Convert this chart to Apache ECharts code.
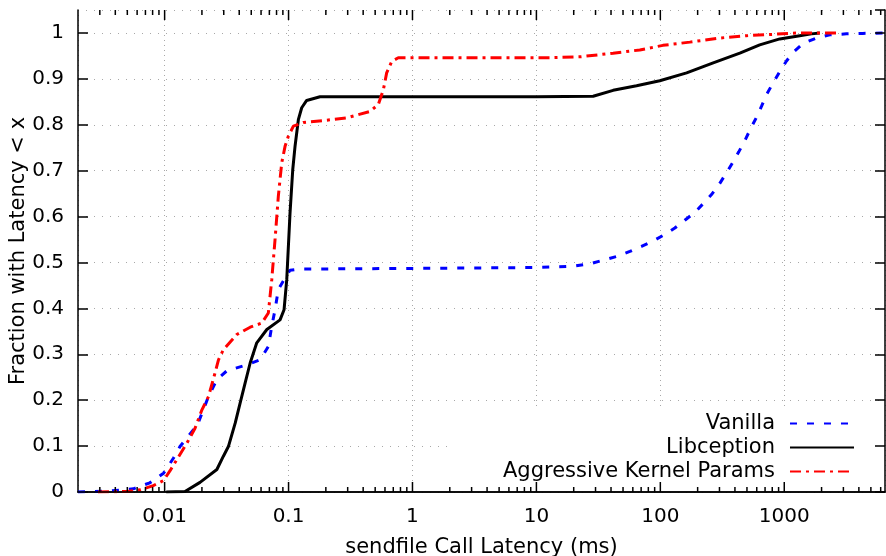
<!DOCTYPE html>
<html><head><meta charset="utf-8">
<script src="https://cdn.jsdelivr.net/npm/echarts@6/dist/echarts.min.js"></script>
<style>html,body{margin:0;padding:0;background:#fff}#c{width:886px;height:556px}</style>
</head><body><div id="c"></div>
<script>
// ---- data ----
const vanillaX = [0.002, 0.0036, 0.0056, 0.0076, 0.0098, 0.0118, 0.0133, 0.0171, 0.0182, 0.0226, 0.0264, 0.0318, 0.046, 0.0589, 0.0687, 0.0732, 0.0778, 0.0827, 0.0937, 0.1028, 0.1238, 0.2, 1, 10, 20, 27, 34.6, 44.3, 56.8, 70.5, 87.4, 108.7, 130.9, 157.6, 189.8, 221.4, 258.8, 298, 337.5, 382, 429.5, 480, 533.5, 596.5, 654.6, 726.7, 812, 920, 1042, 1193, 1419, 1820, 2329, 3176, 4300, 6500];
const vanillaY = [0, 0.002, 0.007, 0.020, 0.041, 0.074, 0.099, 0.136, 0.143, 0.208, 0.245, 0.264, 0.277, 0.288, 0.317, 0.361, 0.397, 0.441, 0.466, 0.483, 0.486, 0.486, 0.487, 0.489, 0.492, 0.497, 0.505, 0.513, 0.524, 0.535, 0.547, 0.561, 0.575, 0.592, 0.609, 0.628, 0.648, 0.670, 0.693, 0.717, 0.741, 0.765, 0.791, 0.816, 0.840, 0.868, 0.891, 0.916, 0.939, 0.959, 0.977, 0.989, 0.996, 0.998, 0.999, 1.0];

const libX = [0.0103, 0.0146, 0.0193, 0.0264, 0.0298, 0.0327, 0.0371, 0.0407, 0.0446, 0.049, 0.0554, 0.0668, 0.0854, 0.092, 0.0967, 0.1028, 0.1081, 0.1128, 0.120, 0.1277, 0.140, 0.1795, 0.3, 1.15, 10, 28.7, 41.6, 64.3, 99, 163, 267, 438, 634, 920, 1334, 1657, 1933];
const libY = [0, 0.001, 0.021, 0.049, 0.078, 0.099, 0.150, 0.194, 0.237, 0.281, 0.325, 0.354, 0.375, 0.397, 0.4625, 0.608, 0.702, 0.753, 0.811, 0.837, 0.853, 0.861, 0.861, 0.861, 0.861, 0.862, 0.875, 0.885, 0.896, 0.913, 0.935, 0.956, 0.974, 0.987, 0.994, 0.998, 1.0];

const aggX = [0.0029, 0.005, 0.0064, 0.0081, 0.0098, 0.0111, 0.0125, 0.0151, 0.0176, 0.020, 0.0226, 0.0255, 0.0272, 0.0298, 0.0382, 0.049, 0.0608, 0.0687, 0.0732, 0.0778, 0.0827, 0.0881, 0.0937, 0.0996, 0.1094, 0.1316, 0.2032, 0.2946, 0.454, 0.530, 0.582, 0.619, 0.680, 0.768, 2.0, 12.85, 22.4, 41.6, 68.3, 105, 173, 302, 496, 812, 1254, 2800];
const aggY = [0, 0.001, 0.005, 0.014, 0.025, 0.047, 0.070, 0.106, 0.139, 0.179, 0.208, 0.259, 0.288, 0.310, 0.343, 0.359, 0.368, 0.390, 0.4625, 0.55, 0.644, 0.717, 0.753, 0.775, 0.797, 0.805, 0.810, 0.815, 0.829, 0.844, 0.876, 0.913, 0.938, 0.946, 0.946, 0.946, 0.948, 0.956, 0.963, 0.973, 0.980, 0.989, 0.994, 0.997, 1.0, 1.0];

const seriesNames = ['Vanilla', 'Libception', 'Aggressive Kernel Params'];
const xMajorTicks = [0.01, 0.1, 1, 10, 100, 1000];
const xMinorTicks = [0.003, 0.004, 0.005, 0.006, 0.007, 0.008, 0.009,
  0.02, 0.03, 0.04, 0.05, 0.06, 0.07, 0.08, 0.09,
  0.2, 0.3, 0.4, 0.5, 0.6, 0.7, 0.8, 0.9,
  2, 3, 4, 5, 6, 7, 8, 9,
  20, 30, 40, 50, 60, 70, 80, 90,
  200, 300, 400, 500, 600, 700, 800, 900,
  2000, 3000, 4000, 5000, 6000];
const xMin = 0.002, xMax = 6500;
const yMin = 0, yMax = 1.05, yStep = 0.1;

// ---- chart ----
const FONT = 'DejaVu Sans';
const zip = (xs, ys) => xs.map((x, i) => [x, ys[i]]);
const fmt = v => String(+(+v).toPrecision(6));
const MAJOR_LEN = 10, MINOR_LEN = 5;
const tickData = xMajorTicks.map(v => [v, yMin, MAJOR_LEN]).concat(xMinorTicks.map(v => [v, yMin, MINOR_LEN]));

const chart = echarts.init(document.getElementById('c'), null, {renderer: 'canvas'});
const frameLine = {show: true, lineStyle: {color: '#000', width: 1.5}};

chart.setOption({
  animation: false,
  backgroundColor: '#fff',
  grid: {left: 78, right: 1, top: 10, bottom: 64, containLabel: false, outerBoundsMode: 'none'},
  legend: {
    orient: 'vertical', align: 'right',
    left: 449, top: 408,
    padding: [5, 24, 9, 54],
    backgroundColor: '#fff',
    itemWidth: 64, itemHeight: 14, itemGap: 3,
    itemStyle: {opacity: 0},
    textStyle: {fontFamily: FONT, fontSize: 21, color: '#000', padding: [0, 10, 0, 0]},
    data: seriesNames,
    z: 5
  },
  xAxis: [
    {
      type: 'log', logBase: 10, min: xMin, max: xMax, position: 'bottom', z: 0,
      name: 'sendfile Call Latency (ms)', nameLocation: 'middle', nameGap: 45, nameMoveOverlap: false,
      nameTextStyle: {fontFamily: FONT, fontSize: 21, color: '#000'},
      axisLine: frameLine, axisTick: {show: false},
      axisLabel: {customValues: xMajorTicks, formatter: fmt, fontFamily: FONT, fontSize: 20, color: '#000', margin: 15},
      splitLine: {show: true, lineStyle: {color: '#a8a8a8', width: 1, type: [1, 4]}}
    },
    {
      type: 'log', logBase: 10, min: xMin, max: xMax, position: 'top', z: 10,
      axisLine: frameLine, axisTick: {show: false},
      axisLabel: {show: false}, splitLine: {show: false}
    }
  ],
  yAxis: [
    {
      type: 'value', min: yMin, max: yMax, interval: yStep, position: 'left', z: 0,
      name: 'Fraction with Latency < x', nameLocation: 'middle', nameGap: 49, nameMoveOverlap: false,
      nameTextStyle: {fontFamily: FONT, fontSize: 21, color: '#000'},
      axisLine: frameLine,
      axisTick: {show: true, inside: true, length: MAJOR_LEN, lineStyle: {color: '#000', width: 1.5}},
      axisLabel: {fontFamily: FONT, fontSize: 20, color: '#000', margin: 14, showMaxLabel: false, formatter: fmt},
      splitLine: {show: true, lineStyle: {color: '#a8a8a8', width: 1, type: [1, 7]}}
    },
    {
      type: 'value', min: yMin, max: yMax, interval: yStep, position: 'right', z: 10,
      axisLine: frameLine,
      axisTick: {show: true, inside: true, length: MAJOR_LEN, lineStyle: {color: '#000', width: 1.5}},
      axisLabel: {show: false}, splitLine: {show: false}
    }
  ],
  series: [
    {name: seriesNames[0], type: 'line', data: zip(vanillaX, vanillaY), symbol: 'none', color: '#0000ff',
     lineStyle: {color: '#0000ff', width: 3, type: [7, 10]}, z: 3},
    {name: seriesNames[1], type: 'line', data: zip(libX, libY), symbol: 'none', color: '#000000',
     lineStyle: {color: '#000000', width: 3, type: 'solid'}, z: 3},
    {name: seriesNames[2], type: 'line', data: zip(aggX, aggY), symbol: 'none', color: '#ff0000',
     lineStyle: {color: '#ff0000', width: 3, type: [11, 5, 3, 5]}, z: 3},
    {
      // x-axis tick marks (bottom and mirrored top), placed by the log scale
      type: 'custom', xAxisIndex: 0, yAxisIndex: 0, z: 10, silent: true, clip: false,
      data: tickData, encode: {x: 0, y: 1},
      renderItem: function (params, api) {
        const v = api.value(0), len = api.value(2);
        const b = api.coord([v, yMin]), t = api.coord([v, yMax]);
        const st = {stroke: '#000', lineWidth: 1.5};
        return {type: 'group', children: [
          {type: 'line', shape: {x1: b[0], y1: b[1], x2: b[0], y2: b[1] - len}, style: st},
          {type: 'line', shape: {x1: t[0], y1: t[1], x2: t[0], y2: t[1] + len}, style: st}
        ]};
      }
    }
  ]
});
</script>
</body></html>
